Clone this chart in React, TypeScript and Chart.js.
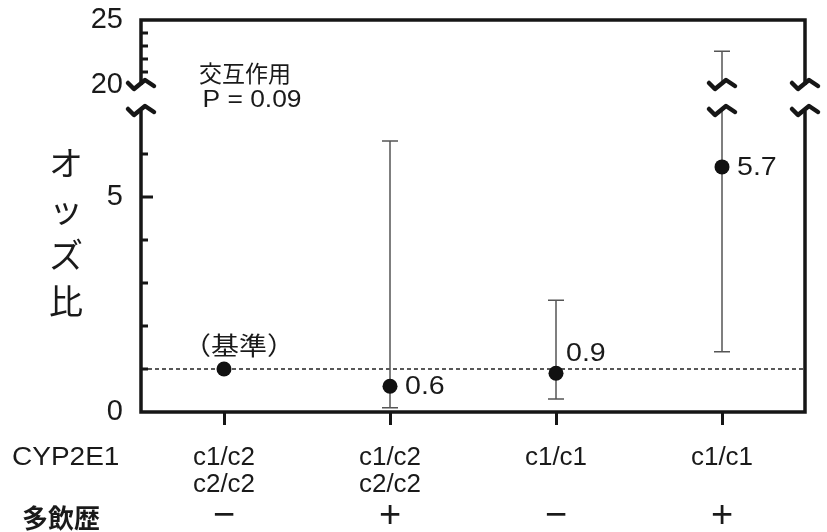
import React, { useEffect, useRef } from 'react';
import { Chart, registerables, LinearScale } from 'chart.js';

Chart.register(...registerables);

// ---------------- data ----------------
const genotypes: string[][] = [["c1/c2", "c2/c2"], ["c1/c2", "c2/c2"], ["c1/c1"], ["c1/c1"]];
const heavyDrinking: string[] = ["−", "+", "−", "+"];
const oddsRatios: number[] = [1.0, 0.6, 0.9, 5.7];
const ciLower: (number | null)[] = [null, 0.1, 0.3, 1.4];
const ciUpper: (number | null)[] = [null, 6.3, 2.6, 22.6];
const valueLabels: string[] = ["（基準）", "0.6", "0.9", "5.7"];
const yTickValues: number[] = [0, 1, 2, 3, 4, 5, 6, 20, 21, 22, 23, 24, 25];
const yTickLabels: number[] = [0, 5, 20, 25];
const referenceValue = 1;
const interactionTitle = "交互作用";
const interactionP = "P = 0.09";
const yTitle = "オッズ比";
const rowLabelGenotype = "CYP2E1";
const rowLabelDrinking = "多飲歴";

// axis break definition
const LOW_MAX = 7;
const UP_MIN = 20;
const UP_MAX = 25;
const LOW_FRAC = 301 / 392;
const UP_FRAC = 65 / 392;

const SANS = '"Liberation Sans", Arial, sans-serif';
const JP = '"Noto Sans CJK JP", "Noto Sans CJK SC", sans-serif';
const INK = '#161616';
const TEXT = '#1a1a1a';

class BrokenLinearScale extends LinearScale {
  static id = 'brokenLinear';
  static defaults = {};
  buildTicks() {
    return yTickValues.map((v) => ({ value: v }));
  }
  getPixelForValue(value: number) {
    const H = this.bottom - this.top;
    const lowTop = this.bottom - LOW_FRAC * H;
    const upBottom = this.top + UP_FRAC * H;
    if (value <= LOW_MAX) return this.bottom - (value / LOW_MAX) * (this.bottom - lowTop);
    if (value >= UP_MIN) return upBottom - ((value - UP_MIN) / (UP_MAX - UP_MIN)) * (upBottom - this.top);
    return lowTop - ((value - LOW_MAX) / (UP_MIN - LOW_MAX)) * (lowTop - upBottom);
  }
  getValueForPixel(pixel: number) {
    const H = this.bottom - this.top;
    const lowTop = this.bottom - LOW_FRAC * H;
    const upBottom = this.top + UP_FRAC * H;
    if (pixel >= lowTop) return ((this.bottom - pixel) / (this.bottom - lowTop)) * LOW_MAX;
    if (pixel <= upBottom) return UP_MIN + ((upBottom - pixel) / (upBottom - this.top)) * (UP_MAX - UP_MIN);
    return LOW_MAX + ((lowTop - pixel) / (lowTop - upBottom)) * (UP_MIN - LOW_MAX);
  }
}
Chart.register(BrokenLinearScale as any);

function drawBreak(ctx: CanvasRenderingContext2D, cx: number, cy: number) {
  ctx.save();
  ctx.strokeStyle = INK;
  ctx.lineWidth = 4.5;
  ctx.lineJoin = 'round';
  ctx.lineCap = 'round';
  ctx.setLineDash([]);
  ctx.beginPath();
  ctx.moveTo(cx - 13, cy - 2);
  ctx.lineTo(cx - 7, cy + 4);
  ctx.lineTo(cx + 4, cy - 5);
  ctx.lineTo(cx + 13, cy + 1);
  ctx.stroke();
  ctx.restore();
}

// text drawn with a slight horizontal stretch, like the scanned original
function drawText(
  ctx: CanvasRenderingContext2D,
  text: string,
  x: number,
  y: number,
  font: string,
  align: CanvasTextAlign,
  sx = 1.1
) {
  ctx.save();
  ctx.font = font;
  ctx.textAlign = align;
  ctx.textBaseline = 'middle';
  ctx.fillStyle = TEXT;
  ctx.translate(x, y);
  ctx.scale(sx, 1);
  ctx.fillText(text, 0, 0);
  ctx.restore();
}

const labelPlacement = [
  { dx: 15, dy: -24, align: 'center', font: `25px ${JP}`, sx: 1.12 },
  { dx: 15, dy: 1, align: 'left', font: `26px ${SANS}`, sx: 1.1 },
  { dx: 10, dy: -19, align: 'left', font: `26px ${SANS}`, sx: 1.1 },
  { dx: 15, dy: 1, align: 'left', font: `26px ${SANS}`, sx: 1.1 },
];

const decorPlugin = {
  id: 'decor',
  beforeDatasetsDraw(chart: any) {
    const { ctx, chartArea: a, scales } = chart;
    const x = scales.x;
    const y = scales.y;
    ctx.save();
    // reference line
    const yr = y.getPixelForValue(referenceValue);
    ctx.strokeStyle = '#222';
    ctx.lineWidth = 1.3;
    ctx.setLineDash([4, 3]);
    ctx.beginPath();
    ctx.moveTo(a.left, yr);
    ctx.lineTo(a.right, yr);
    ctx.stroke();
    ctx.setLineDash([]);

    // error bars
    const yBreakLow = y.getPixelForValue(LOW_MAX);
    const yBreakUp = y.getPixelForValue(UP_MIN);
    ctx.strokeStyle = '#555';
    ctx.lineWidth = 1.5;
    oddsRatios.forEach((_, i) => {
      const lo = ciLower[i];
      const hi = ciUpper[i];
      if (lo == null || hi == null) return;
      const px = x.getPixelForValue(i);
      const pLo = y.getPixelForValue(lo);
      const pHi = y.getPixelForValue(hi);
      const crosses = hi > LOW_MAX && lo < LOW_MAX;
      ctx.beginPath();
      if (crosses) {
        ctx.moveTo(px, pLo);
        ctx.lineTo(px, yBreakLow);
        ctx.moveTo(px, yBreakUp);
        ctx.lineTo(px, pHi);
      } else {
        ctx.moveTo(px, pLo);
        ctx.lineTo(px, pHi);
      }
      ctx.moveTo(px - 8, pLo);
      ctx.lineTo(px + 8, pLo);
      ctx.moveTo(px - 8, pHi);
      ctx.lineTo(px + 8, pHi);
      ctx.stroke();
      if (crosses) {
        drawBreak(ctx, px, yBreakLow);
        drawBreak(ctx, px, yBreakUp);
      }
    });
    ctx.restore();
  },
  afterDatasetsDraw(chart: any) {
    const { ctx, chartArea: a, scales } = chart;
    const x = scales.x;
    const y = scales.y;
    const yBreakLow = y.getPixelForValue(LOW_MAX);
    const yBreakUp = y.getPixelForValue(UP_MIN);
    ctx.save();
    ctx.strokeStyle = INK;
    ctx.lineWidth = 3.5;
    ctx.lineCap = 'butt';
    ctx.beginPath();
    // left & right axes with break
    [a.left, a.right].forEach((lx: number) => {
      ctx.moveTo(lx, a.bottom);
      ctx.lineTo(lx, yBreakLow);
      ctx.moveTo(lx, yBreakUp);
      ctx.lineTo(lx, a.top);
    });
    // top & bottom
    ctx.moveTo(a.left - 1.75, a.top);
    ctx.lineTo(a.right + 1.75, a.top);
    ctx.moveTo(a.left - 1.75, a.bottom);
    ctx.lineTo(a.right + 1.75, a.bottom);
    ctx.stroke();

    // inner y ticks
    ctx.lineWidth = 3;
    ctx.beginPath();
    yTickValues.forEach((v) => {
      if (v === 0 || v === UP_MIN || v === UP_MAX) return;
      const py = y.getPixelForValue(v);
      const len = yTickLabels.includes(v) ? 12 : 7;
      ctx.moveTo(a.left, py);
      ctx.lineTo(a.left + len, py);
    });
    ctx.stroke();
    ctx.restore();

    drawBreak(ctx, a.left, yBreakLow);
    drawBreak(ctx, a.left, yBreakUp);
    drawBreak(ctx, a.right, yBreakLow);
    drawBreak(ctx, a.right, yBreakUp);

    // annotation
    drawText(ctx, interactionTitle, 245, 73, `23px ${JP}`, 'center', 1.0);
    drawText(ctx, interactionP, 252, 100, `24px ${SANS}`, 'center', 1.1);

    // value labels
    oddsRatios.forEach((v, i) => {
      const p = labelPlacement[i];
      const px = x.getPixelForValue(i);
      const py = y.getPixelForValue(v);
      drawText(ctx, valueLabels[i], px + p.dx, py + p.dy, p.font, p.align as CanvasTextAlign, p.sx);
    });

    // y title, stacked vertically
    Array.from(yTitle).forEach((ch, i) => {
      drawText(ctx, ch, 66, 163 + i * 46, `34px ${JP}`, 'center', 1.0);
    });

    // row labels
    drawText(ctx, rowLabelGenotype, 12, 458, `25px ${SANS}`, 'left', 1.12);
    drawText(ctx, rowLabelDrinking, 22, 518, `bold 26px ${JP}`, 'left', 1.0);

    heavyDrinking.forEach((s, i) => {
      drawText(ctx, s, x.getPixelForValue(i), 517, `38px ${SANS}`, 'center', 1.0);
    });
  },
};

export default function App() {
  const canvasRef = useRef<HTMLCanvasElement | null>(null);
  useEffect(() => {
    const canvas = canvasRef.current;
    if (!canvas) return;
    const chart = new Chart(canvas, {
      type: 'line',
      data: {
        labels: genotypes as any,
        datasets: [
          {
            label: 'OR',
            data: oddsRatios,
            showLine: false,
            pointRadius: 7.5,
            pointHoverRadius: 7.5,
            pointBackgroundColor: '#111',
            pointBorderColor: '#111',
            pointBorderWidth: 0,
            borderColor: '#111',
          },
        ],
      },
      options: {
        responsive: false,
        animation: false,
        devicePixelRatio: 1,
        layout: { padding: { top: 20, right: 22, left: 0, bottom: 0 } },
        plugins: { legend: { display: false }, tooltip: { enabled: false } },
        events: [],
        scales: {
          x: {
            type: 'category',
            offset: true,
            afterFit: (s: any) => {
              s.height = 120;
              s.paddingLeft = 0;
              s.paddingRight = 0;
            },
            grid: {
              display: true,
              drawOnChartArea: false,
              drawTicks: true,
              tickLength: 13,
              color: INK,
              lineWidth: 3,
            },
            border: { display: false },
            ticks: {
              autoSkip: false,
              maxRotation: 0,
              padding: 19,
              color: TEXT,
              font: { family: SANS, size: 26, lineHeight: 1.04 },
            },
          },
          y: {
            type: 'brokenLinear' as any,
            min: 0,
            max: UP_MAX,
            afterFit: (s: any) => {
              s.width = 141;
              s.paddingTop = 0;
              s.paddingBottom = 0;
            },
            grid: { display: false, drawTicks: false },
            border: { display: false },
            ticks: {
              autoSkip: false,
              padding: 18,
              color: TEXT,
              font: { family: SANS, size: 29 },
              callback: (v: any) => (yTickLabels.includes(Number(v)) ? String(v) : ''),
            },
          },
        },
      } as any,
      plugins: [decorPlugin as any],
    });
    return () => chart.destroy();
  }, []);
  return (
    <div style={{ position: 'absolute', left: 0, top: 0, width: 827, height: 532, background: '#fff' }}>
      <canvas ref={canvasRef} width={827} height={532} style={{ display: 'block' }} />
    </div>
  );
}
